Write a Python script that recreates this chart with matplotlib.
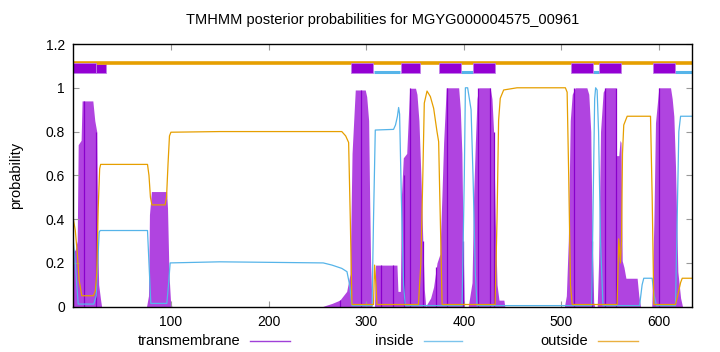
import matplotlib
matplotlib.use('Agg')
import matplotlib.pyplot as plt
from matplotlib.patches import Rectangle
from matplotlib.lines import Line2D

plt.rcParams['font.family'] = ['Liberation Sans', 'DejaVu Sans']

seq_len = 634
title = "TMHMM posterior probabilities for MGYG000004575_00961"

# transmembrane posterior (keypoints)
tm_x = [0, 2, 4, 5, 8, 9, 20, 22, 24, 25, 26, 28, 29,
        75, 77, 78, 80, 95.5, 96.5, 98, 99.5, 101,
        255, 258, 265, 273, 280, 283.5, 285.5, 288.8, 299, 300.5, 302.5, 303.5, 304.5, 306,
        308.5, 309.5, 331.5, 332.5, 335, 336, 338, 341.5, 344.5, 350.5, 352, 354, 356, 358, 359.5, 361,
        362, 366, 369, 372.5, 375.5, 377.5, 379.3, 382, 394.7, 396.4, 398, 399.2, 400.5,
        404.5, 406.6, 408.4, 410, 411.8, 413.5, 415.2, 427, 428.8, 430.5, 432.2, 434, 436, 441, 442,
        503, 505, 507, 509, 511, 514, 526, 528, 530, 531.5, 533, 534,
        536.6, 538, 540, 542.7, 545, 555.3, 556.3, 558.7, 560, 561, 562.2, 564, 566, 577.5, 579.2, 581,
        592.5, 594.6, 596.3, 599.7, 611.7, 613.4, 615.1, 616.8, 619.2, 622, 624, 634]
tm_y = [0.25, 0.26, 0.3, 0.74, 0.76, 0.94, 0.94, 0.85, 0.8, 0.3, 0.1, 0.03, 0,
        0, 0.05, 0.42, 0.526, 0.526, 0.45, 0.15, 0.03, 0,
        0, 0.005, 0.015, 0.03, 0.07, 0.15, 0.7, 0.99, 0.99, 0.96, 0.85, 0.5, 0.2, 0,
        0, 0.19, 0.19, 0.07, 0.07, 0.5, 0.68, 0.7, 0.998, 0.998, 0.97, 0.85, 0.6, 0.3, 0.08, 0,
        0.01, 0.04, 0.09, 0.2, 0.24, 0.5, 0.75, 1.0, 1.0, 0.9, 0.7, 0.3, 0,
        0, 0.06, 0.11, 0.5, 0.75, 0.95, 1.0, 1.0, 0.95, 0.8, 0.4, 0.1, 0.03, 0.03, 0,
        0, 0.05, 0.3, 0.85, 0.97, 1.0, 1.0, 0.97, 0.8, 0.3, 0.02, 0,
        0, 0.2, 0.8, 0.98, 1.0, 1.0, 0.69, 0.69, 0.76, 0.75, 0.21, 0.18, 0.13, 0.13, 0.05, 0,
        0, 0.38, 0.84, 1.0, 1.0, 0.95, 0.87, 0.64, 0.16, 0.04, 0, 0]

# darker impulse lines inside the transmembrane area
tm_dark_x = [11, 23, 273, 295, 315, 327, 339, 345, 358, 371, 383, 399, 415, 426.5, 431, 513, 531, 545, 556, 600]
tm_dark_h = [0.94, 0.8, 0.03, 0.99, 0.19, 0.19, 0.6, 1.0, 0.3, 0.18, 1.0, 0.3, 1.0, 1.0, 0.8, 1.0, 0.3, 1.0, 1.0, 1.0]

# inside posterior
in_x = [0, 2, 5, 21, 23.5, 25, 26.5, 27.5, 76, 77.5, 79.4, 95.8, 97.5, 99.2, 150, 256, 265, 275, 280.3, 283, 285.4,
        306, 307.5, 309.3, 328, 330, 332, 333.2, 334.2, 336, 338.3, 340,
        398.2, 400.5, 401.6, 403.9, 406, 407.4, 409.4, 411.8, 413.5,
        531, 532.5, 534, 535, 536.5, 538, 540, 542.5,
        580, 582.6, 584.3, 592.9, 595, 597.3, 616.8, 618.5, 620.2, 622, 634]
in_y = [0.3, 0.2, 0.012, 0.012, 0.05, 0.2, 0.34, 0.348, 0.348, 0.2, 0.015, 0.015, 0.1, 0.2, 0.205, 0.2, 0.19, 0.175, 0.16, 0.1, 0.005,
        0.005, 0.4, 0.807, 0.81, 0.83, 0.87, 0.91, 0.88, 0.5, 0.1, 0.005,
        0.005, 0.6, 1.0, 1.0, 0.94, 0.9, 0.6, 0.15, 0.005,
        0.005, 0.5, 0.95, 1.0, 0.99, 0.8, 0.3, 0.005,
        0.005, 0.1, 0.13, 0.13, 0.05, 0.005, 0.005, 0.4, 0.8, 0.87, 0.87]

# outside posterior
out_x = [0, 2, 4, 6, 8.7, 20.6, 22.5, 24, 25.5, 27, 28, 76, 77.5, 79, 80.5, 94, 95.5, 97, 98.5, 100, 150, 275, 279, 282,
         283.7, 285.4, 307.5, 308.6, 310, 311, 353.5, 356, 358, 359.5, 362.3, 365.7, 369.1, 372.5, 374.2, 375.2, 376.7,
         377.7, 432, 434, 435.6, 437.3, 440.8, 454.5, 504, 505.8, 507.4, 509.2, 511, 557, 558.7, 560.4, 561.5, 562.5,
         563.8, 567.3, 591.2, 592.9, 594.6, 616.8, 619, 622, 623.7, 634]
out_y = [0.40, 0.35, 0.25, 0.12, 0.05, 0.05, 0.07, 0.15, 0.45, 0.63, 0.65, 0.65, 0.6, 0.5, 0.465, 0.465, 0.5, 0.65, 0.78, 0.797, 0.8, 0.8, 0.78, 0.75,
         0.4, 0.01, 0.01, 0.19, 0.1, 0.01, 0.01, 0.2, 0.6, 0.93, 0.985, 0.96, 0.906, 0.8, 0.754, 0.54, 0.24,
         0.01, 0.01, 0.4, 0.85, 0.952, 0.99, 1.0, 1.0, 0.98, 0.6, 0.1, 0.01, 0.01, 0.31, 0.2, 0.3, 0.7,
         0.83, 0.87, 0.87, 0.5, 0.01, 0.01, 0.05, 0.11, 0.13, 0.13]

# predicted topology bars along the top
tm_seg_start = [0, 284.7, 335.7, 374.6, 409.8, 510.2, 538.9, 593.9]
tm_seg_end = [23.4, 306.5, 354.7, 396.7, 431.6, 532.0, 561.1, 616.1]
tm_extra_start = [23.4]
tm_extra_end = [33.3]
in_seg_start = [308.3, 396.7, 532.0, 616.1]
in_seg_end = [334.9, 409.8, 538.9, 634]

c_tm_fill = '#b044e0'
c_tm = '#9400D3'
c_in = '#56B4E9'
c_out = '#E69F00'

fig = plt.figure(figsize=(7.2, 3.52), dpi=100)
ax = fig.add_axes([73.3 / 720, 1 - 306.7 / 352, (692.3 - 73.3) / 720, (306.7 - 44) / 352])

ax.fill_between(tm_x, tm_y, 0, color=c_tm_fill, lw=0, zorder=1)
ax.vlines(tm_dark_x, 0, tm_dark_h, color='#8a00cc', lw=0.9, zorder=2)
ax.plot(in_x, in_y, color=c_in, lw=0.9, zorder=3)
ax.plot(out_x, out_y, color=c_out, lw=0.9, zorder=3)

# top topology
for s, e in zip(tm_extra_start, tm_extra_end):
    ax.add_patch(Rectangle((s, 1.066), e - s, 0.044, fc=c_tm, ec='#c080e8', lw=0.6, zorder=3.5))
ax.plot([0, seq_len], [1.113, 1.113], color=c_out, lw=2.6, solid_capstyle='butt', zorder=4)
ax.hlines([1.07] * len(in_seg_start), in_seg_start, in_seg_end, color=c_in, lw=2.2, zorder=4)
for s, e in zip(tm_seg_start, tm_seg_end):
    ax.add_patch(Rectangle((s, 1.066), e - s, 0.049, fc=c_tm, ec='#c080e8', lw=0.6, zorder=5))

ax.set_xlim(0, seq_len)
ax.set_ylim(0, 1.2)
ax.set_xticks([100, 200, 300, 400, 500, 600])
ax.set_yticks([0, 0.2, 0.4, 0.6, 0.8, 1.0, 1.2])
ax.set_yticklabels(['0', '0.2', '0.4', '0.6', '0.8', '1', '1.2'])
ax.tick_params(direction='in', length=4, width=0.8, color='#999999', top=True, right=True,
               labelsize=10, labelcolor='black', pad=6)
for sp in ax.spines.values():
    sp.set_linewidth(1.0)
    sp.set_color('black')
    sp.set_zorder(6)

fig.text(382.7 / 720, 1 - 20 / 352, title, ha='center', va='center', fontsize=10.5)
fig.text(16 / 720, 1 - 175.5 / 352, 'probability', ha='center', va='center', rotation=90, fontsize=10.5)

# legend
leg = [('transmembrane', '#a040d8', 240, 250, 290),
       ('inside', '#7cc4ec', 414, 424, 462),
       ('outside', '#eab040', 588, 598, 638)]
ly = 1 - 341 / 352
for name, col, tx, l0, l1 in leg:
    fig.text(tx / 720, ly, name, ha='right', va='center', fontsize=10.5)
    fig.add_artist(Line2D([l0 / 720, l1 / 720], [ly, ly], color=col, lw=1.0))

fig.savefig('out.png', dpi=100)
